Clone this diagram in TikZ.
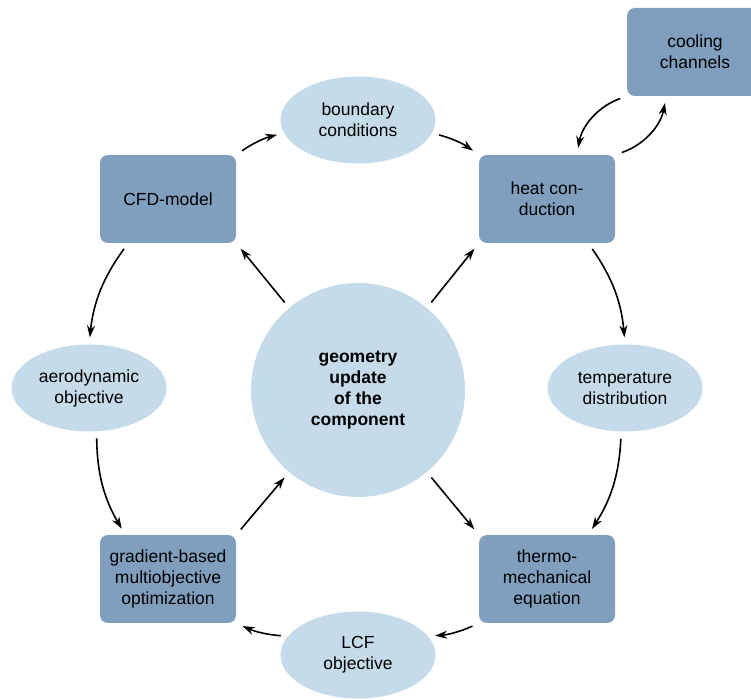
\documentclass[tikz,border=0pt]{standalone}
\usepackage{fontspec}
\setmainfont{Liberation Sans}
\usetikzlibrary{arrows.meta,shapes.geometric}
\definecolor{boxc}{RGB}{128,158,189}
\definecolor{ellc}{RGB}{198,219,234}
\tikzset{
  stepbox/.style={fill=boxc,rounded corners=8pt,minimum width=136pt,minimum height=88pt,align=center,inner sep=0pt},
  quantity/.style={ellipse,fill=ellc,minimum width=155pt,minimum height=87pt,align=center,inner sep=0pt},
  link/.style={-{Stealth[length=12pt,width=8pt]},line width=1.6pt,shorten >=7pt,shorten <=7pt}
}
\begin{document}
\begin{tikzpicture}[x=1pt,y=1pt,font=\fontsize{17.5}{21}\selectfont]
\clip (0,0) rectangle (751,700);
\node[stepbox] (cool) at (695,648) {cooling\\channels};
\node[quantity] (bc) at (358,580) {boundary\\conditions};
\node[stepbox] (cfd) at (168,501) {CFD-model};
\node[stepbox] (heat) at (547,501) {heat con-\\duction};
\node[circle,fill=ellc,minimum size=214pt,align=center,font=\fontsize{17.5}{21}\selectfont\bfseries] (geo) at (358,310) {geometry\\update\\of the\\component};
\node[quantity] (aero) at (89,312) {aerodynamic\\objective};
\node[quantity] (temp) at (625,312) {temperature\\distribution};
\node[stepbox] (grad) at (168,121) {gradient-based\\multiobjective\\optimization};
\node[stepbox] (thermo) at (547,121) {thermo-\\mechanical\\equation};
\node[quantity] (lcf) at (358,45) {LCF\\objective};
% outer ring
\draw[link] (cfd.north east) to[bend left=10] (bc.190);
\draw[link] (bc.350) to[bend left=10] (heat.north west);
\draw[link] (heat.north east) to[bend right=30] (cool.237);
\draw[link] (cool.south west) to[bend right=30] (heat.56);
\draw[link] (heat.-47) to[bend left=15] (temp.north);
\draw[link] (temp.265) to[bend left=15] (thermo.47);
\draw[link] (thermo.south west) to[bend left=10] (lcf.15);
\draw[link] (lcf.165) to[bend left=10] (grad.south east);
\draw[link] (cfd.228) to[bend right=15] (aero.north);
\draw[link] (aero.280) to[bend right=15] (grad.134);
% spokes
\foreach \a/\b in {geo.130/cfd.south east,geo.50/heat.south west,geo.-50/thermo.north west,grad.north east/geo.230}
  \draw[link] (\a) -- (\b);
\end{tikzpicture}
\end{document}
